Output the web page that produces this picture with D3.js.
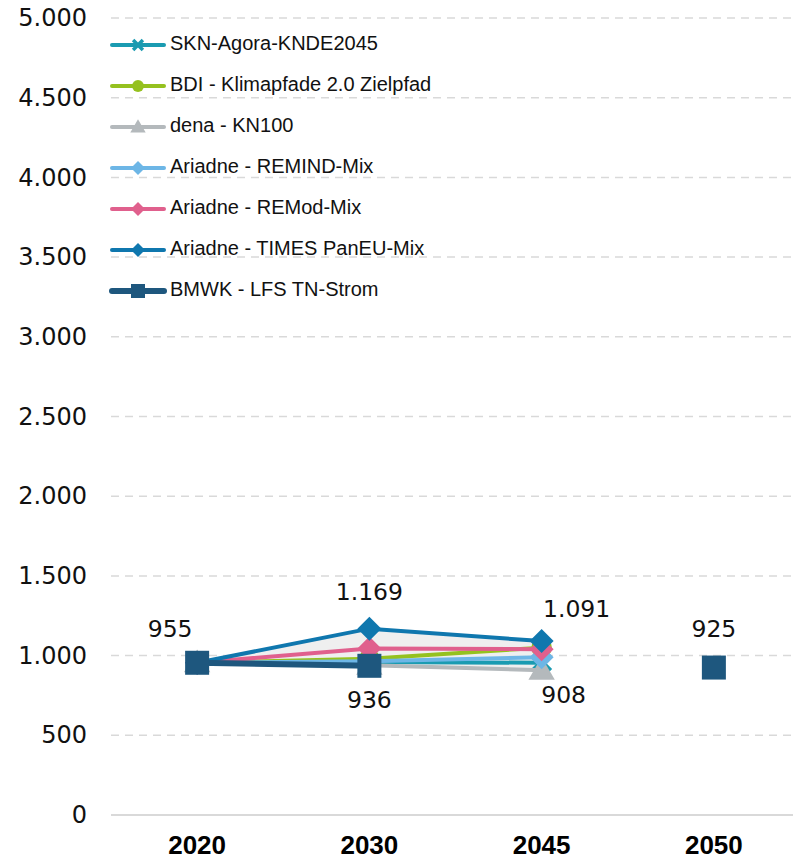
<!DOCTYPE html>
<html><head><meta charset="utf-8">
<script src="https://cdn.jsdelivr.net/npm/d3@7"></script>
<style>body{margin:0;background:#fff}svg{display:block}</style>
</head><body>
<svg id="c" width="793" height="861"></svg>
<script>
const categories = ["2020", "2030", "2045", "2050"];
const yTicks = [0, 500, 1000, 1500, 2000, 2500, 3000, 3500, 4000, 4500, 5000];
const seriesNames = ["SKN-Agora-KNDE2045", "BDI - Klimapfade 2.0 Zielpfad", "dena - KN100",
  "Ariadne - REMIND-Mix", "Ariadne - REMod-Mix", "Ariadne - TIMES PanEU-Mix", "BMWK - LFS TN-Strom"];
const sknValues = [955, 960, 955, null];
const bdiValues = [955, 980, 1050, null];
const denaValues = [955, 940, 908, null];
const remindValues = [955, 965, 990, null];
const remodValues = [955, 1045, 1040, null];
const timesValues = [955, 1169, 1091, null];
const bmwkValues = [955, 936, null, 925];
const seriesColors = ["#1a9bb1", "#95c11f", "#b4b9bc", "#6db6e6", "#e0608d", "#0f77ae", "#1e577e"];
const seriesMarkers = ["cross", "circle", "triangle", "diamond", "diamond", "diamond", "square"];
const dataLabels = [
  {cat: "2020", value: 955, dx: -27, dy: -32},
  {cat: "2030", value: 1169, dx: 0, dy: -35},
  {cat: "2030", value: 936, dx: 0, dy: 36},
  {cat: "2045", value: 1091, dx: 35, dy: -31},
  {cat: "2045", value: 908, dx: 22, dy: 26},
  {cat: "2050", value: 925, dx: 0, dy: -37}
];
const allValues = [sknValues, bdiValues, denaValues, remindValues, remodValues, timesValues, bmwkValues];

const svg = d3.select("#c");
const x = d3.scaleBand().domain(categories).range([111, 800]).padding(0);
const y = d3.scaleLinear().domain([0, 5000]).range([815, 18]);
const cx = c => x(c) + x.bandwidth() / 2;
const fmt = v => d3.formatLocale({decimal: ",", thousands: ".", grouping: [3], currency: ["", "€"]}).format(",")(v);

// gridlines
svg.append("g").selectAll("line").data(yTicks.filter(t => t > 0)).join("line")
  .attr("x1", 111).attr("x2", 793).attr("y1", d => y(d)).attr("y2", d => y(d))
  .attr("stroke", "#d9d9d9").attr("stroke-width", 1.5).attr("stroke-dasharray", "8,6");
svg.append("line").attr("x1", 111).attr("x2", 793).attr("y1", y(0)).attr("y2", y(0))
  .attr("stroke", "#d9d9d9").attr("stroke-width", 2);

// y axis
const yAxis = d3.axisLeft(y).tickValues(yTicks).tickFormat(fmt).tickSize(0).tickPadding(0);
const ya = svg.append("g").attr("transform", "translate(87,0)").call(yAxis);
ya.select(".domain").remove();
ya.selectAll("text").attr("font-family", "DejaVu Sans").attr("font-size", 24).attr("fill", "#111");

// x axis
const xAxis = d3.axisBottom(x).tickSize(0).tickPadding(0);
const xa = svg.append("g").attr("transform", "translate(0,854)").call(xAxis);
xa.select(".domain").remove();
xa.selectAll("text").attr("font-family", "'Liberation Sans Narrow', 'Liberation Sans'")
  .attr("font-weight", "bold").attr("font-size", 26).attr("fill", "#000").attr("y", 0).attr("dy", 0);

// range area
const rangeData = categories.map((c, i) => {
  const vals = allValues.map(s => s[i]).filter(v => v != null);
  return {c, lo: d3.min(vals), hi: d3.max(vals), n: vals.length};
}).filter(d => d.n > 1);
svg.append("path").datum(rangeData)
  .attr("d", d3.area().x(d => cx(d.c)).y0(d => y(d.lo)).y1(d => y(d.hi)))
  .attr("fill", "#efefef");

function marker(g, type, color, s) {
  if (type === "diamond") g.append("path").attr("d", `M0,${-s}L${s},0L0,${s}L${-s},0Z`).attr("fill", color);
  else if (type === "square") g.append("rect").attr("x", -s).attr("y", -s).attr("width", 2*s).attr("height", 2*s).attr("fill", color);
  else if (type === "circle") g.append("circle").attr("r", s * 0.85).attr("fill", color);
  else if (type === "triangle") g.append("path").attr("d", `M0,${-s*1.1}L${s*1.1},${s*0.8}L${-s*1.1},${s*0.8}Z`).attr("fill", color);
  else if (type === "cross") g.append("path").attr("d", `M${-s*0.7},${-s*0.7}L${s*0.7},${s*0.7}M${s*0.7},${-s*0.7}L${-s*0.7},${s*0.7}`).attr("stroke", color).attr("stroke-width", s*0.5);
}

// series
allValues.forEach((vals, si) => {
  const pts = categories.map((c, i) => ({c, v: vals[i]}));
  const lw = si === 6 ? 6 : 4;
  svg.append("path").datum(pts)
    .attr("d", d3.line().defined(d => d.v != null).x(d => cx(d.c)).y(d => y(d.v)))
    .attr("fill", "none").attr("stroke", seriesColors[si]).attr("stroke-width", lw);
  pts.filter(d => d.v != null).forEach(d => {
    const g = svg.append("g").attr("transform", `translate(${cx(d.c)},${y(d.v)})`);
    marker(g, seriesMarkers[si], seriesColors[si], 12);
  });
});

// data labels
svg.append("g").selectAll("text").data(dataLabels).join("text")
  .attr("x", d => cx(d.cat) + d.dx).attr("y", d => y(d.value) + d.dy)
  .attr("text-anchor", "middle").attr("dominant-baseline", "middle")
  .attr("font-family", "DejaVu Sans").attr("font-size", 23.5).attr("fill", "#111")
  .text(d => fmt(d.value));

// legend
const lg = svg.append("g");
seriesNames.forEach((n, i) => {
  const yy = 45 + i * 41;
  const g = lg.append("g").attr("transform", `translate(0,${yy})`);
  g.append("line").attr("x1", 112).attr("x2", 164).attr("y1", 0).attr("y2", 0)
    .attr("stroke", seriesColors[i]).attr("stroke-width", i === 6 ? 6 : 4).attr("stroke-linecap", "round");
  const mg = g.append("g").attr("transform", "translate(138,0)");
  marker(mg, seriesMarkers[i], seriesColors[i], 7);
  g.append("text").attr("x", 170).attr("y", 0).attr("dominant-baseline", "middle")
    .attr("font-family", "'Liberation Sans'").attr("font-size", 20).attr("fill", "#111").text(n);
});
</script>
</body></html>
